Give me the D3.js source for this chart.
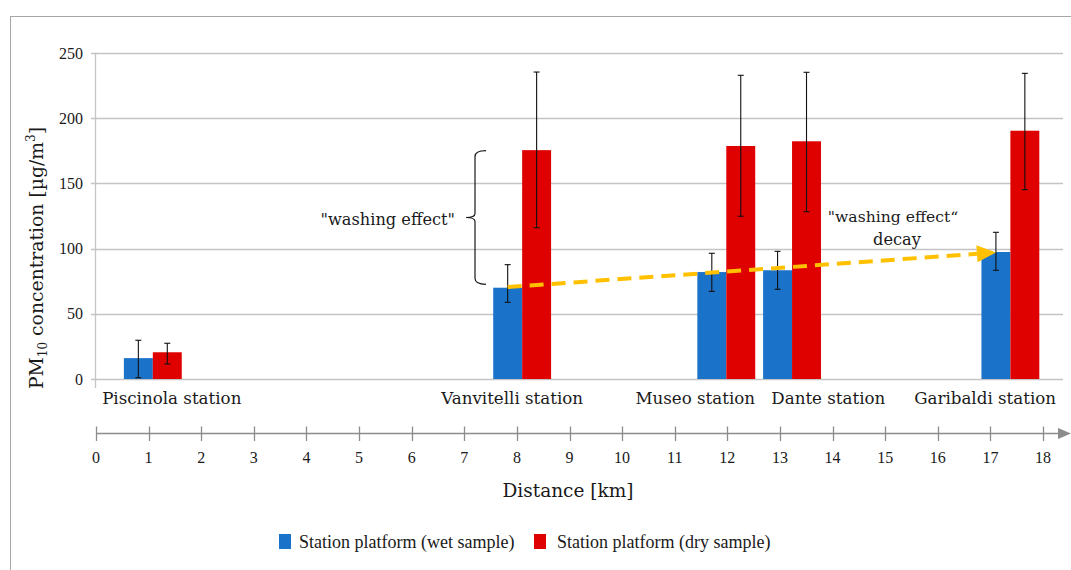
<!DOCTYPE html>
<html>
<head>
<meta charset="utf-8">
<script src="https://cdn.jsdelivr.net/npm/d3@7"></script>
<style>
  html, body { margin: 0; padding: 0; background: #fff; }
  svg { display: block; }
  text { font-family: "Liberation Serif", "DejaVu Serif", serif; fill: #1a1a1a; }
  text.w { font-family: "DejaVu Serif", "Liberation Serif", serif; }
</style>
</head>
<body>
<svg id="chart" width="1071" height="570"></svg>
<script>
// ---------------- data ----------------
const stations = ["Piscinola station", "Vanvitelli station", "Museo station", "Dante station", "Garibaldi station"];
const stationKm = [1.08, 8.1, 11.98, 13.23, 17.38];          // bar-pair centre along the distance axis
const labelKm = [1.44, 7.91, 11.39, 13.92, 16.9];            // station label centres
const wetValues = [16, 70, 82, 83.4, 97.4];
const wetLow = [1, 58.8, 67.2, 68.8, 83.4];
const wetHigh = [29.7, 87.7, 96.4, 97.9, 112.5];
const dryValues = [20.5, 175.5, 178.7, 182.3, 190.4];
const dryLow = [11.5, 116, 124.8, 128.3, 145.2];
const dryHigh = [27.4, 235.4, 232.9, 235.2, 234.4];
const yTicks = [0, 50, 100, 150, 200, 250];
const kmTicks = d3.range(0, 19);
const seriesNames = ["Station platform (wet sample)", "Station platform (dry sample)"];
const seriesColors = ["#1b72c9", "#df0000"];
const decayFrom = { km: 8.1, value: 70.5 };   // wet Vanvitelli
const decayTo = { km: 17.38, value: 97 };     // wet Garibaldi
const braceRange = [175.5, 73];

// ---------------- layout ----------------
const svg = d3.select("#chart");
const x = d3.scaleLinear().domain([0, 18]).range([96, 1043]);
const y = d3.scaleLinear().domain([0, 250]).range([379, 53]);
const barKm = 0.55;
const barW = x(barKm) - x(0);
const gridRight = 1063;
const gridCol = "#c4c4c4";

// outer frame (only top & left visible)
svg.append("rect").attr("x", 10.5).attr("y", 16.5).attr("width", 1100).attr("height", 600)
  .attr("fill", "none").attr("stroke", "#a6a6a6").attr("stroke-width", 1);

// gridlines
svg.append("g").selectAll("line").data(yTicks).join("line")
  .attr("x1", 91).attr("x2", gridRight)
  .attr("y1", d => Math.round(y(d)) + 0.5).attr("y2", d => Math.round(y(d)) + 0.5)
  .attr("stroke", gridCol).attr("stroke-width", 1.3);

// y axis line
svg.append("line").attr("x1", 95.5).attr("x2", 95.5).attr("y1", y(250)).attr("y2", 388)
  .attr("stroke", gridCol).attr("stroke-width", 1.3);

// y tick labels
svg.append("g").selectAll("text").data(yTicks).join("text")
  .attr("x", 83).attr("y", d => y(d) + 5.5)
  .attr("text-anchor", "end").attr("font-size", 16).text(d => d);

// y axis title
const yt = svg.append("text").attr("class", "w")
  .attr("transform", "translate(43,258) rotate(-90)")
  .attr("text-anchor", "middle").attr("font-size", 18.8);
yt.append("tspan").text("PM");
yt.append("tspan").attr("font-size", 12).attr("dy", 4).text("10");
yt.append("tspan").attr("dy", -4).text(" concentration [µg/m");
yt.append("tspan").attr("font-size", 12).attr("dy", -8).text("3");
yt.append("tspan").attr("dy", 8).text("]");

// bars
const idx = d3.range(stations.length);
const series = [
  { vals: wetValues, lo: wetLow, hi: wetHigh, off: -1 },
  { vals: dryValues, lo: dryLow, hi: dryHigh, off: 0 }
];
series.forEach((s, si) => {
  const g = svg.append("g");
  g.selectAll("rect").data(idx).join("rect")
    .attr("x", i => x(stationKm[i]) + s.off * barW)
    .attr("width", barW)
    .attr("y", i => y(s.vals[i]))
    .attr("height", i => y(0) - y(s.vals[i]))
    .attr("fill", seriesColors[si]);
});

// error bars
series.forEach(s => {
  const g = svg.append("g").attr("stroke", "#111").attr("stroke-width", 1.1);
  idx.forEach(i => {
    const cx = x(stationKm[i]) + s.off * barW + barW / 2;
    g.append("line").attr("x1", cx).attr("x2", cx).attr("y1", y(s.hi[i])).attr("y2", y(s.lo[i]));
    g.append("line").attr("x1", cx - 3).attr("x2", cx + 3).attr("y1", y(s.hi[i])).attr("y2", y(s.hi[i]));
    g.append("line").attr("x1", cx - 3).attr("x2", cx + 3).attr("y1", y(s.lo[i])).attr("y2", y(s.lo[i]));
  });
});

// station labels
svg.append("g").selectAll("text").data(idx).join("text").attr("class", "w")
  .attr("x", i => x(labelKm[i])).attr("y", 404)
  .attr("text-anchor", "middle").attr("font-size", 16.7)
  .text(i => stations[i]);

// distance axis
const axY = 433.5;
const axCol = "#8c8c8c";
svg.append("line").attr("x1", x(0)).attr("x2", 1060).attr("y1", axY).attr("y2", axY)
  .attr("stroke", axCol).attr("stroke-width", 1.3);
svg.append("path").attr("d", `M1058,${axY - 5.5}L1071,${axY}L1058,${axY + 5.5}Z`).attr("fill", axCol);
svg.append("g").selectAll("line").data(kmTicks).join("line")
  .attr("x1", d => Math.round(x(d)) + 0.5).attr("x2", d => Math.round(x(d)) + 0.5)
  .attr("y1", 426.5).attr("y2", 441).attr("stroke", axCol).attr("stroke-width", 1.3);
svg.append("g").selectAll("text").data(kmTicks).join("text")
  .attr("x", d => x(d)).attr("y", 463).attr("text-anchor", "middle").attr("font-size", 16)
  .text(d => d);
svg.append("text").attr("class", "w").attr("x", 568).attr("y", 497).attr("text-anchor", "middle")
  .attr("font-size", 18.5).text("Distance [km]");

// legend
const legX = [279, 534];
const legTX = [299, 557];
seriesNames.forEach((n, i) => {
  svg.append("rect").attr("x", legX[i]).attr("y", 534).attr("width", 12).attr("height", 15)
    .attr("fill", seriesColors[i]);
  svg.append("text").attr("x", legTX[i]).attr("y", 548).attr("font-size", 18).text(n);
});

// washing effect brace
const bTop = y(braceRange[0]) + 0.5, bBot = y(braceRange[1]) + 0.5, bMid = (bTop + bBot) / 2;
const bx = 475;
svg.append("path")
  .attr("d", `M486,${bTop} Q${bx},${bTop} ${bx},${bTop + 6} L${bx},${bMid - 4} Q${bx},${bMid} ${bx - 9},${bMid}` +
             ` Q${bx},${bMid} ${bx},${bMid + 4} L${bx},${bBot - 6} Q${bx},${bBot} 486,${bBot}`)
  .attr("fill", "none").attr("stroke", "#1a1a1a").attr("stroke-width", 1.2);
svg.append("text").attr("class", "w").attr("x", 455).attr("y", 225).attr("text-anchor", "end").attr("font-size", 16.2)
  .text('"washing effect"');

// decay arrow
const ax0 = x(decayFrom.km) - barW / 2, ay0 = y(decayFrom.value);
const ax1 = x(decayTo.km) - barW / 2, ay1 = y(decayTo.value);
const ang = Math.atan2(ay1 - ay0, ax1 - ax0);
const headL = 19, headH = 8.5;
const bxh = ax1 - headL * Math.cos(ang), byh = ay1 - headL * Math.sin(ang);
svg.append("line").attr("x1", ax0).attr("y1", ay0).attr("x2", bxh).attr("y2", byh)
  .attr("stroke", "#ffc000").attr("stroke-width", 4).attr("stroke-dasharray", "14 8");
svg.append("path")
  .attr("d", `M${ax1},${ay1}L${bxh - headH * Math.sin(ang)},${byh + headH * Math.cos(ang)}L${bxh + headH * Math.sin(ang)},${byh - headH * Math.cos(ang)}Z`)
  .attr("fill", "#ffc000");
svg.append("text").attr("class", "w").attr("x", 893).attr("y", 222).attr("text-anchor", "middle").attr("font-size", 15.6)
  .text('"washing effect\u201C');
svg.append("text").attr("class", "w").attr("x", 897).attr("y", 245).attr("text-anchor", "middle").attr("font-size", 16.2)
  .text("decay");
</script>
</body>
</html>
